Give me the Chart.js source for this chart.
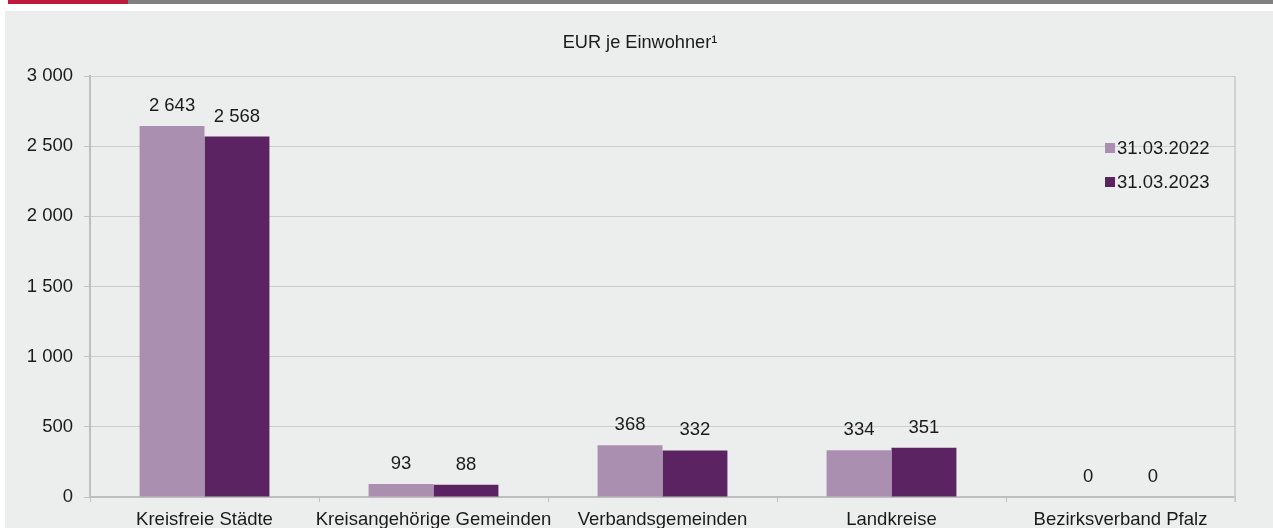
<!DOCTYPE html>
<html>
<head>
<meta charset="utf-8">
<script src="https://cdn.jsdelivr.net/npm/chart.js@4/dist/chart.umd.min.js"></script>
<style>
    html, body { margin: 0; padding: 0; background: #ffffff; }
    body { width: 1273px; height: 528px; position: relative; overflow: hidden; }
    #redBar { position: absolute; left: 8px; top: 0; width: 120px; height: 4px; background: #be1a3e; }
    #greyBar { position: absolute; left: 128px; top: 0; width: 1145px; height: 4px; background: #808080; }
    #panel { position: absolute; left: 5px; top: 11px; width: 1268px; height: 517px; background: #eceeed; }
</style>
</head>
<body>
<div id="redBar"></div>
<div id="greyBar"></div>
<div id="panel"><canvas id="chart" width="1268" height="517"></canvas></div>
<script>
// data
const categories = ['Kreisfreie Städte', 'Kreisangehörige Gemeinden', 'Verbandsgemeinden', 'Landkreise', 'Bezirksverband Pfalz'];
const seriesNames = ['31.03.2022', '31.03.2023'];
const values2022 = [2643, 93, 368, 334, 0];
const values2023 = [2568, 88, 332, 351, 0];
const yTicks = [0, 500, 1000, 1500, 2000, 2500, 3000];
const seriesColors = ['#ab8fb0', '#5b2362'];
const chartTitle = 'EUR je Einwohner¹';

const FONT = '"Liberation Sans", Arial, sans-serif';

// thousands with a space: 2 643
function fmt(v) {
    return String(v).replace(/\B(?=(\d{3})+(?!\d))/g, ' ');
}

// value labels above each bar
const valueLabels = {
    id: 'valueLabels',
    afterDatasetsDraw(chart) {
        const ctx = chart.ctx;
        ctx.save();
        ctx.font = '18.5px ' + FONT;
        ctx.fillStyle = '#1a1a1a';
        ctx.textAlign = 'center';
        ctx.textBaseline = 'alphabetic';
        chart.data.datasets.forEach((ds, i) => {
            chart.getDatasetMeta(i).data.forEach((bar, j) => {
                ctx.fillText(fmt(ds.data[j]), bar.x, bar.y - 15);
            });
        });
        ctx.restore();
    }
};

// title, right edge line and legend inside plot area
const extras = {
    id: 'extras',
    afterDraw(chart) {
        const ctx = chart.ctx;
        const area = chart.chartArea;
        ctx.save();
        ctx.font = '18.2px ' + FONT;
        ctx.fillStyle = '#1a1a1a';
        ctx.textAlign = 'center';
        ctx.textBaseline = 'middle';
        ctx.fillText(chartTitle, chart.width / 2 + 1, 31.5);

        ctx.strokeStyle = '#c8c8c8';
        ctx.lineWidth = 1.5;
        ctx.beginPath();
        ctx.moveTo(area.right, area.top);
        ctx.lineTo(area.right, area.bottom + 5);
        ctx.stroke();

        ctx.font = '18.5px ' + FONT;
        ctx.textAlign = 'left';
        chart.data.datasets.forEach((ds, i) => {
            const y = 132 + i * 34;
            ctx.fillStyle = ds.backgroundColor;
            ctx.fillRect(1100, y, 10, 10);
            ctx.fillStyle = '#1a1a1a';
            ctx.fillText(ds.label, 1112, y + 5.5);
        });
        ctx.restore();
    }
};

new Chart(document.getElementById('chart'), {
    type: 'bar',
    data: {
        labels: categories,
        datasets: [
            { label: seriesNames[0], data: values2022, backgroundColor: seriesColors[0] },
            { label: seriesNames[1], data: values2023, backgroundColor: seriesColors[1] }
        ]
    },
    options: {
        responsive: false,
        animation: false,
        devicePixelRatio: 1,
        layout: { padding: { left: 0, right: 38, top: 65, bottom: 0 } },
        datasets: {
            bar: {
                categoryPercentage: 0.567,
                barPercentage: 1,
                borderWidth: 0
            }
        },
        plugins: {
            legend: { display: false },
            tooltip: { enabled: false },
            title: { display: false }
        },
        scales: {
            x: {
                afterFit(scale) { scale.height = 31; },
                grid: { display: true, drawOnChartArea: false, offset: true, tickLength: 5, color: '#c0c0c0' },
                border: { color: '#bebebe', width: 2 },
                ticks: {
                    color: '#1a1a1a',
                    padding: 7,
                    autoSkip: false,
                    maxRotation: 0,
                    font: { family: FONT, size: 18.5 }
                }
            },
            y: {
                min: 0,
                max: 3000,
                afterFit(scale) { scale.width = 85; },
                afterBuildTicks(scale) { scale.ticks = yTicks.map(v => ({ value: v })); },
                grid: { color: '#cdcdcd', lineWidth: 1, tickLength: 6, tickColor: '#c0c0c0' },
                border: { color: '#bebebe', width: 2 },
                ticks: {
                    color: '#1a1a1a',
                    padding: 11,
                    font: { family: FONT, size: 18.5 },
                    callback: v => fmt(v)
                }
            }
        }
    },
    plugins: [valueLabels, extras]
});
</script>
</body>
</html>
